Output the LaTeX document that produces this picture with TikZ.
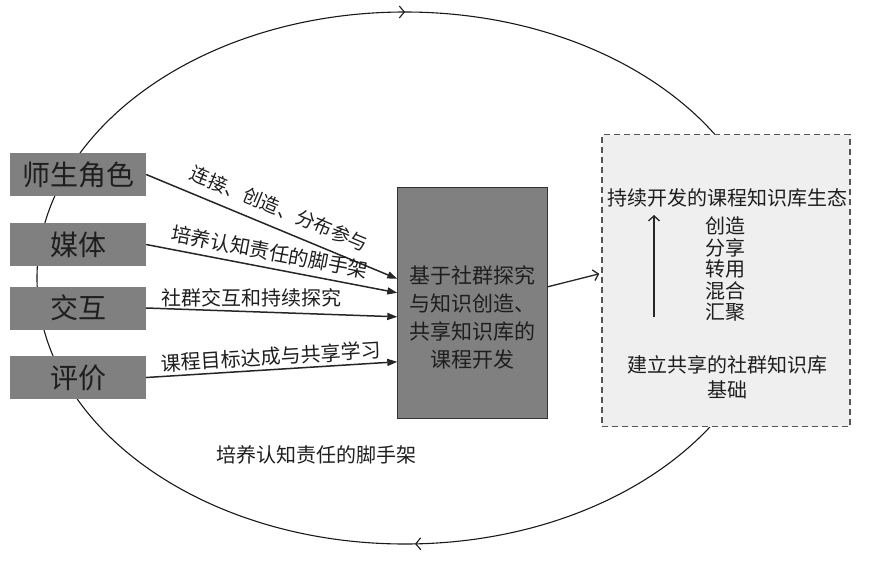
\documentclass[tikz,border=0pt]{standalone}
\usepackage{fontspec}
\setmainfont{Noto Sans CJK SC}
\usetikzlibrary{arrows.meta,positioning,calc,decorations.markings}
\definecolor{boxgray}{RGB}{128,128,128}
\definecolor{kbfill}{RGB}{239,239,239}
\definecolor{kbline}{RGB}{85,85,85}
\definecolor{inktext}{RGB}{30,30,30}
\begin{document}
\begin{tikzpicture}[
  x=1pt, y=-1pt,
  every node/.style={text=inktext},
  role/.style={fill=boxgray, minimum width=136pt, minimum height=43pt, inner sep=0pt,
    font=\fontsize{28}{30}\selectfont},
  core/.style={draw=black!80, fill=boxgray, minimum width=150pt, minimum height=231pt, inner sep=0pt},
  kb/.style={draw=kbline, dash pattern=on 6pt off 4pt, line width=1.4pt, fill=kbfill,
    minimum width=248pt, minimum height=292pt, inner sep=0pt},
  lbl/.style={font=\fontsize{20}{24}\selectfont, inner sep=2pt},
  body/.style={align=center, font=\fontsize{21}{28}\selectfont, inner sep=0pt},
  arr/.style={-{Triangle[length=10pt, width=7pt]}, line width=1.5pt, black!85},
  barb/.style={-{Straight Barb[length=5pt, width=11pt]}, line width=1.3pt, black!85},
  cyc/.style={line width=1.1pt, black!90, postaction={decorate}, decoration={markings,
    mark=at position 0.25 with {\arrowreversed{Straight Barb[length=5pt, width=12pt]}},
    mark=at position 0.755 with {\arrowreversed{Straight Barb[length=5pt, width=12pt]}}}}
]
\useasboundingbox (0,0) rectangle (875,573);
% ---------------- outer cycle
\draw[cyc] (405,278) ellipse [x radius=368pt, y radius=266pt];
\node[lbl] (scaffold) at (316,455) {培养认知责任的脚手架};
% ---------------- left column: elements
\node[role] (teach) at (78,174.5) {师生角色};
\node[role] (media) at (78,244.5) {媒体};
\node[role] (inter) at (78,308) {交互};
\node[role] (eval) at (78,377.5) {评价};
% ---------------- middle: course development
\node[core] (core) at (472.5,302.5) {};
\node[body] (coretxt) at ($(core.center)+(0,15)$) {基于社群探究\\与知识创造、\\共享知识库的\\课程开发};
% ---------------- right: knowledge base
\node[kb] (kb) at (726,280.5) {};
\node[lbl] (eco) at (727,198) {持续开发的课程知识库生态};
\node[align=center, font=\fontsize{20}{21.5}\selectfont, inner sep=0pt] (acts) at (725,269)
  {创造\\分享\\转用\\混合\\汇聚};
\node[align=center, font=\fontsize{20}{25}\selectfont, inner sep=0pt] (base) at (727,377)
  {建立共享的社群知识库\\基础};
\coordinate (grow0) at (654,317);
\coordinate (grow1) at (654,215);
% ---------------- arrows
\draw[arr] (teach.east) -- ($(core.north west)+(0,92)$)
  node[lbl, pos=0.5, above=8pt, sloped, font=\fontsize{19}{22}\selectfont] (l1) {连接、创造、分布参与};
\draw[arr] (media.east) -- ($(core.north west)+(0,106)$)
  node[lbl, pos=0.48, above=4pt, sloped] (l2) {培养认知责任的脚手架};
\draw[arr] (inter.east) -- ($(core.north west)+(0,130)$)
  node[lbl, pos=0.42, above=2pt] (l3) {社群交互和持续探究};
\draw[arr] (eval.east) -- ($(core.north west)+(0,175)$)
  node[lbl, pos=0.5, above=1pt, sloped] (l4) {课程目标达成与共享学习};
\draw[barb] ($(core.north east)+(0,100)$) -- ($(kb.north west)+(-2,140)$);
\draw[barb] (grow0) -- (grow1);
\end{tikzpicture}
\end{document}
